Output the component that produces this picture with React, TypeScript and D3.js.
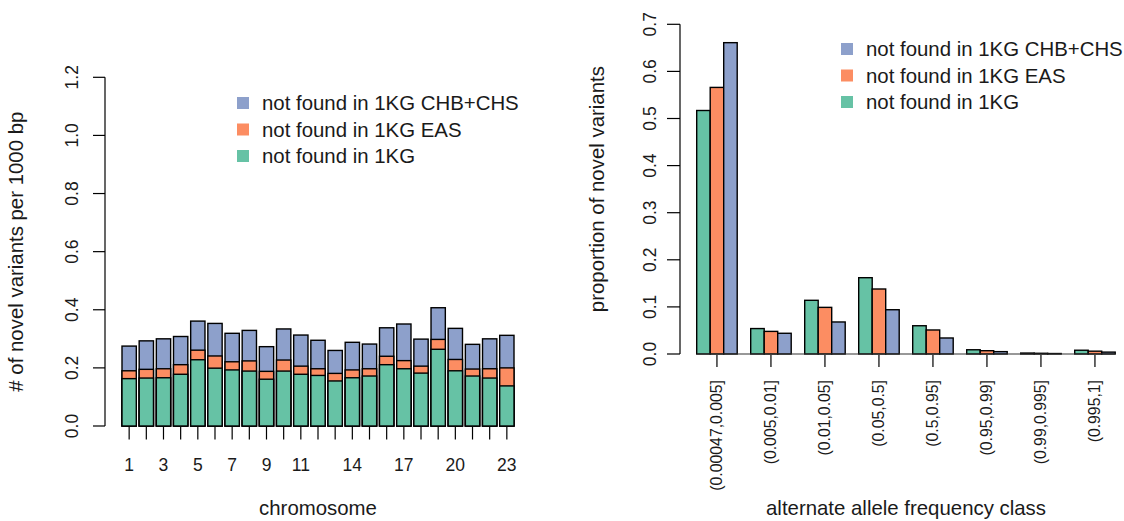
import React from "react";
import * as d3 from "d3";

// left panel: novel variants per 1000 bp by chromosome (overlaid, cumulative values)
const chromosomes = d3.range(1, 24).map(String);
const chromLabels = ["1", "3", "5", "7", "9", "11", "14", "17", "20", "23"];
const chromNot1KG = [0.163, 0.165, 0.166, 0.178, 0.228, 0.199, 0.193, 0.189, 0.161, 0.189, 0.178, 0.174, 0.155, 0.166, 0.172, 0.211, 0.197, 0.182, 0.264, 0.19, 0.172, 0.165, 0.138];
const chromNotEAS = [0.19, 0.195, 0.197, 0.211, 0.261, 0.241, 0.221, 0.224, 0.188, 0.227, 0.206, 0.197, 0.181, 0.193, 0.197, 0.24, 0.225, 0.206, 0.298, 0.229, 0.196, 0.197, 0.2];
const chromNotCHB = [0.275, 0.293, 0.3, 0.308, 0.361, 0.353, 0.319, 0.329, 0.273, 0.334, 0.313, 0.295, 0.26, 0.288, 0.282, 0.338, 0.351, 0.299, 0.407, 0.336, 0.281, 0.3, 0.312];
const leftTicks = [0, 0.2, 0.4, 0.6, 0.8, 1.0, 1.2];

// right panel: proportion of novel variants by alternate allele frequency class
const freqClasses = ["(0.00047,0.005]", "(0.005,0.01]", "(0.01,0.05]", "(0.05,0.5]", "(0.5,0.95]", "(0.95,0.99]", "(0.99,0.995]", "(0.995,1]"];
const freqNot1KG = [0.517, 0.054, 0.114, 0.162, 0.06, 0.009, 0.002, 0.008];
const freqNotEAS = [0.566, 0.048, 0.099, 0.138, 0.051, 0.007, 0.0015, 0.006];
const freqNotCHB = [0.661, 0.044, 0.068, 0.094, 0.034, 0.005, 0.001, 0.004];
const rightTicks = [0, 0.1, 0.2, 0.3, 0.4, 0.5, 0.6, 0.7];

const seriesNames = ["not found in 1KG CHB+CHS", "not found in 1KG EAS", "not found in 1KG"];
const colors = ["#8DA0CB", "#FC8D62", "#66C2A5"];

const FONT = "'Liberation Sans', Arial, Helvetica, sans-serif";

function Legend({ x, y }: { x: number; y: number }) {
  return (
    <g>
      {seriesNames.map((name, i) => (
        <g key={name} transform={`translate(${x},${y + i * 26.5})`}>
          <rect x={0} y={-6} width={12} height={12} fill={colors[i]} />
          <text x={25} y={7} fontSize={20.4}>{name}</text>
        </g>
      ))}
    </g>
  );
}

function LeftChart() {
  const x = d3.scaleBand<string>().domain(chromosomes).range([122, 514]).paddingInner(0.2 / 1.2).paddingOuter(0);
  const y = d3.scaleLinear().domain([0, 1.2]).range([426, 77.3]);
  const layers = [chromNotCHB, chromNotEAS, chromNot1KG];
  return (
    <g>
      {layers.map((vals, li) => (
        <g key={li}>
          {chromosomes.map((c, i) => (
            <rect key={c} x={x(c)} y={y(vals[i])} width={x.bandwidth()} height={y(0) - y(vals[i])}
              fill={colors[li]} stroke="#000" strokeWidth={1.4} />
          ))}
        </g>
      ))}
      {/* y axis */}
      <line x1={105} x2={105} y1={y(0)} y2={y(1.2)} stroke="#000" strokeWidth={1.2} />
      {leftTicks.map((t) => (
        <g key={t}>
          <line x1={93} x2={105} y1={y(t)} y2={y(t)} stroke="#000" strokeWidth={1.2} />
          <text transform={`translate(72,${y(t)}) rotate(-90)`} textAnchor="middle" dominantBaseline="central" fontSize={17.5}>
            {t.toFixed(1)}
          </text>
        </g>
      ))}
      {/* x axis */}
      {chromosomes.map((c) => {
        const cx = (x(c) as number) + x.bandwidth() / 2;
        return (
          <g key={c}>
            <line x1={cx} x2={cx} y1={427} y2={439.5} stroke="#000" strokeWidth={1.2} />
            {chromLabels.includes(c) && (
              <text x={cx} y={470.5} textAnchor="middle" fontSize={17.5}>{c}</text>
            )}
          </g>
        );
      })}
      <text x={318} y={515} textAnchor="middle" fontSize={20.4}>chromosome</text>
      <text transform={`translate(16,${(y(0) + y(1.2)) / 2}) rotate(-90)`} textAnchor="middle" dominantBaseline="central" fontSize={20.4}>
        # of novel variants per 1000 bp
      </text>
      <Legend x={237} y={103} />
    </g>
  );
}

function RightChart() {
  const x0 = d3.scaleBand<string>().domain(freqClasses).range([696.7, 1115.2]).paddingInner(0.25).paddingOuter(0);
  const series = [freqNot1KG, freqNotEAS, freqNotCHB];
  const seriesColors = [colors[2], colors[1], colors[0]];
  const x1 = d3.scaleBand<number>().domain([0, 1, 2]).range([0, x0.bandwidth()]).padding(0);
  const y = d3.scaleLinear().domain([0, 0.7]).range([354, 24.3]);
  return (
    <g>
      {freqClasses.map((fc, gi) => (
        <g key={fc} transform={`translate(${x0(fc)},0)`}>
          {series.map((vals, si) => (
            <rect key={si} x={x1(si)} y={y(vals[gi])} width={x1.bandwidth()} height={y(0) - y(vals[gi])}
              fill={seriesColors[si]} stroke="#000" strokeWidth={1.4} />
          ))}
        </g>
      ))}
      <line x1={x0.range()[0]} x2={x0.range()[1]} y1={y(0)} y2={y(0)} stroke="#333" strokeWidth={1.2} />
      {/* y axis */}
      <line x1={680} x2={680} y1={y(0)} y2={y(0.7)} stroke="#000" strokeWidth={1.2} />
      {rightTicks.map((t) => (
        <g key={t}>
          <line x1={667} x2={680} y1={y(t)} y2={y(t)} stroke="#000" strokeWidth={1.2} />
          <text transform={`translate(650,${y(t)}) rotate(-90)`} textAnchor="middle" dominantBaseline="central" fontSize={17.5}>
            {t.toFixed(1)}
          </text>
        </g>
      ))}
      {/* x axis */}
      {freqClasses.map((fc) => {
        const cx = (x0(fc) as number) + x0.bandwidth() / 2;
        return (
          <g key={fc}>
            <line x1={cx} x2={cx} y1={355} y2={367} stroke="#000" strokeWidth={1.2} />
            <text transform={`translate(${cx},380) rotate(-90)`} textAnchor="end" dominantBaseline="central" fontSize={15.8}>
              {fc}
            </text>
          </g>
        );
      })}
      <text x={906} y={515} textAnchor="middle" fontSize={20.4}>alternate allele frequency class</text>
      <text transform={`translate(597,${(y(0) + y(0.7)) / 2}) rotate(-90)`} textAnchor="middle" dominantBaseline="central" fontSize={20.4}>
        proportion of novel variants
      </text>
      <Legend x={841} y={49} />
    </g>
  );
}

export default function App() {
  return (
    <svg width={1124} height={521} style={{ position: "absolute", left: 0, top: 0, background: "#fff" }}
      fontFamily={FONT} fill="#1a1a1a">
      <rect width={1124} height={521} fill="#fff" />
      <LeftChart />
      <RightChart />
    </svg>
  );
}
